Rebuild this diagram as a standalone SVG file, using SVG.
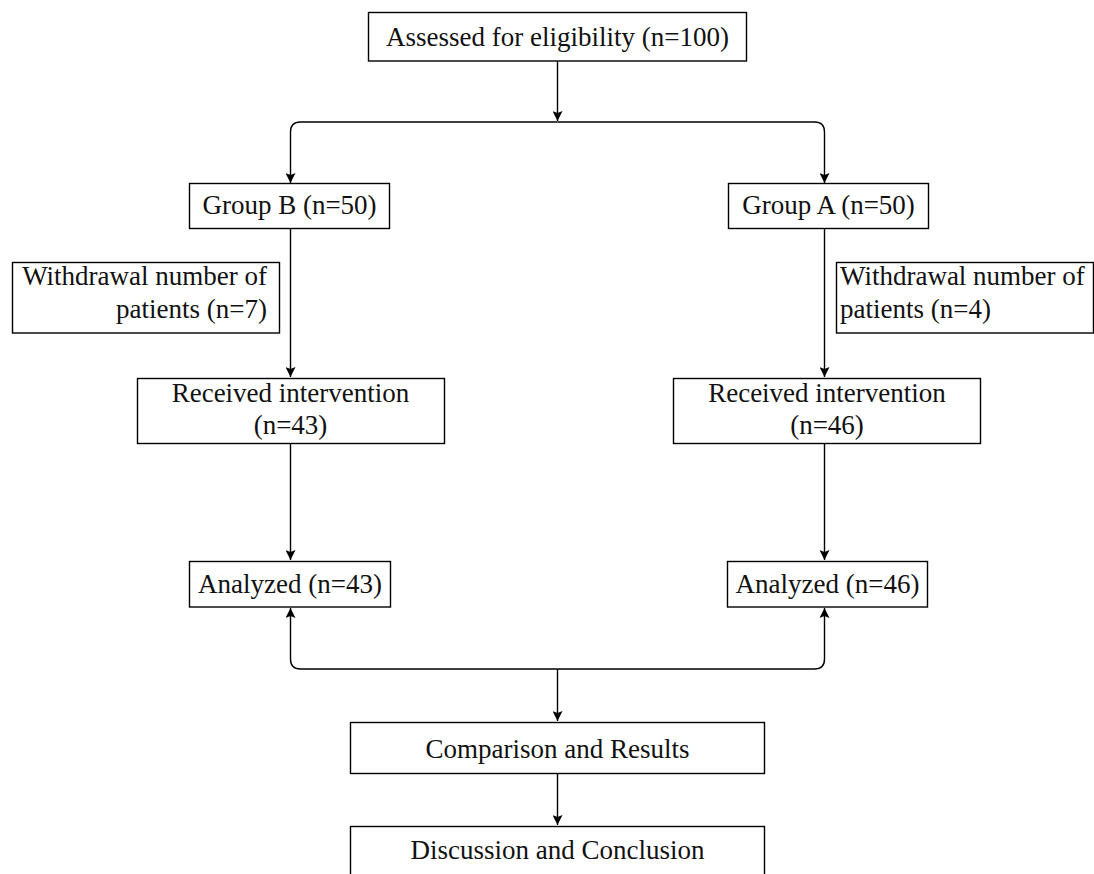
<svg xmlns="http://www.w3.org/2000/svg" width="1094" height="874" viewBox="0 0 1094 874">
<defs>
<style>
.box{fill:#fff;stroke:#000;stroke-width:1.4}
.t{font-family:"Liberation Serif","Times New Roman",serif;font-size:27px;fill:#111}
.c{text-anchor:middle}
.ln{fill:none;stroke:#000;stroke-width:1.4}
</style>
<marker id="ah" viewBox="0 0 10 10" refX="10" refY="5" markerWidth="11" markerHeight="10" markerUnits="userSpaceOnUse" orient="auto">
<path d="M0,0 L10,5 L0,10 L2,5 z" fill="#000"/>
</marker>
</defs>
<rect width="1094" height="874" fill="#fff"/>
<g id="connectors">
<path class="ln" d="M557.5,61 V121" marker-end="url(#ah)"/>
<path class="ln" d="M557.5,122 H300.5 Q290.5,122 290.5,132 V183" marker-end="url(#ah)"/>
<path class="ln" d="M557.5,122 H814.5 Q824.5,122 824.5,132 V183" marker-end="url(#ah)"/>
<path class="ln" d="M290.5,228 V377" marker-end="url(#ah)"/>
<path class="ln" d="M824.5,228 V377" marker-end="url(#ah)"/>
<path class="ln" d="M290.5,443 V560" marker-end="url(#ah)"/>
<path class="ln" d="M824.5,444 V560" marker-end="url(#ah)"/>
<path class="ln" d="M557.5,669 H300.5 Q290.5,669 290.5,659 V608" marker-end="url(#ah)"/>
<path class="ln" d="M557.5,669 H814.5 Q824.5,669 824.5,659 V608" marker-end="url(#ah)"/>
<path class="ln" d="M557.5,669 V721" marker-end="url(#ah)"/>
<path class="ln" d="M557.5,773 V825" marker-end="url(#ah)"/>
</g>
<g id="assessed">
<rect class="box" x="368.5" y="12.5" width="378" height="48.5"/>
<text class="t c" x="557.5" y="46">Assessed for eligibility (n=100)</text>
</g>
<g id="groupB">
<rect class="box" x="189.5" y="183.5" width="200" height="45"/>
<text class="t c" x="289.5" y="214">Group B (n=50)</text>
</g>
<g id="groupA">
<rect class="box" x="728.5" y="183.5" width="200" height="45"/>
<text class="t c" x="828.5" y="214">Group A (n=50)</text>
</g>
<g id="withdrawB">
<rect class="box" x="12.5" y="262.5" width="267" height="70.5"/>
<text class="t" x="267" y="285" text-anchor="end">Withdrawal number of</text>
<text class="t" x="267" y="318" text-anchor="end">patients (n=7)</text>
</g>
<g id="withdrawA">
<rect class="box" x="836.5" y="262.5" width="257" height="70.5"/>
<text class="t" x="840" y="285">Withdrawal number of</text>
<text class="t" x="840" y="318">patients (n=4)</text>
</g>
<g id="receivedB">
<rect class="box" x="137.5" y="378.5" width="307" height="65"/>
<text class="t c" x="290.5" y="402">Received intervention</text>
<text class="t c" x="290.5" y="434">(n=43)</text>
</g>
<g id="receivedA">
<rect class="box" x="673.5" y="378.5" width="307" height="65"/>
<text class="t c" x="827" y="402">Received intervention</text>
<text class="t c" x="827" y="434">(n=46)</text>
</g>
<g id="analyzedB">
<rect class="box" x="189.5" y="561.5" width="201" height="45.5"/>
<text class="t c" x="290" y="593">Analyzed (n=43)</text>
</g>
<g id="analyzedA">
<rect class="box" x="727.5" y="561.5" width="200" height="45.5"/>
<text class="t c" x="827.5" y="593">Analyzed (n=46)</text>
</g>
<g id="comparison">
<rect class="box" x="350.5" y="722.5" width="414" height="51"/>
<text class="t c" x="557.5" y="758">Comparison and Results</text>
</g>
<g id="discussion">
<rect class="box" x="350.5" y="826.5" width="414" height="60"/>
<text class="t c" x="557.5" y="859">Discussion and Conclusion</text>
</g>
</svg>
